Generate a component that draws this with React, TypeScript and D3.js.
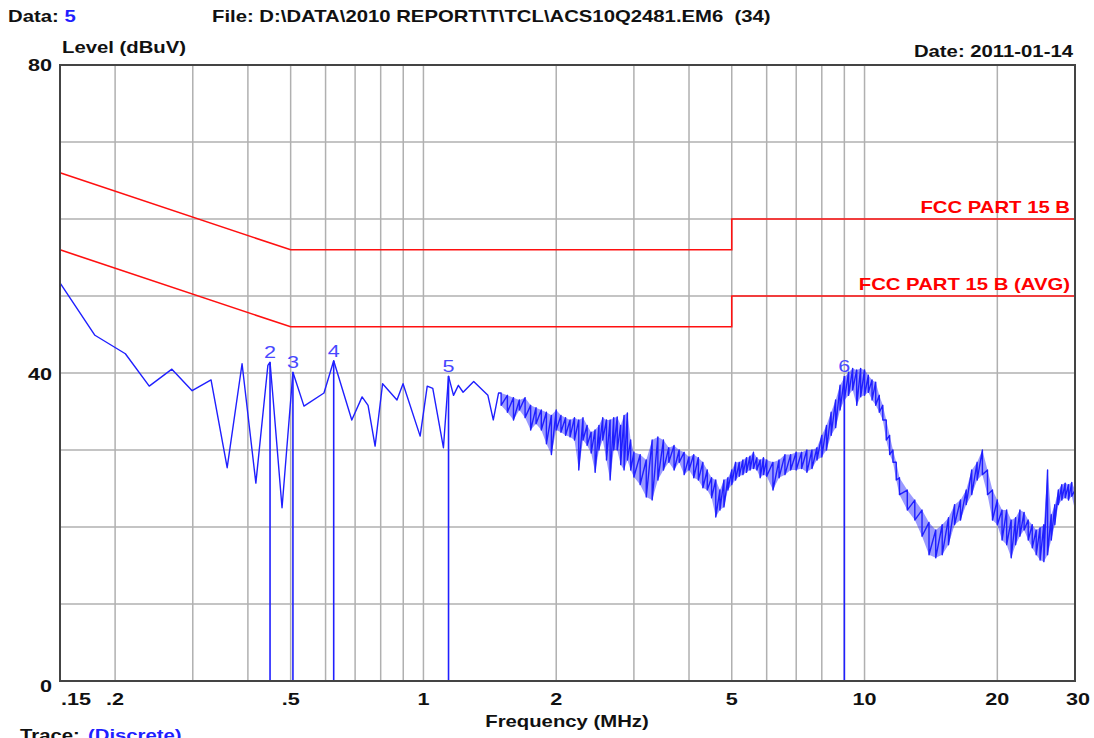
import React from 'react';
import * as d3 from 'd3';

// discrete part of the scan (MHz, dBuV)
const lowFreq = [0.15, 0.18, 0.211, 0.239, 0.269, 0.299, 0.33, 0.359, 0.388, 0.417, 0.444, 0.449, 0.455, 0.478, 0.506, 0.536, 0.595, 0.626, 0.688, 0.726, 0.749, 0.777, 0.808, 0.871, 0.899, 0.983, 1.02, 1.05, 1.11, 1.14, 1.17, 1.2, 1.23, 1.3, 1.4, 1.44, 1.48];
const lowLevel = [51.7, 44.9, 42.5, 38.3, 40.5, 37.7, 39.1, 27.7, 41.2, 25.7, 41.0, 41.4, 37.5, 22.5, 40.1, 35.7, 37.4, 41.6, 33.9, 36.9, 35.8, 30.5, 38.6, 36.5, 38.6, 31.8, 38.3, 38.0, 30.3, 39.6, 37.1, 38.4, 37.5, 38.9, 37.1, 33.9, 37.4];

// swept part, upper and lower edge of the noise band
const sweepFreq = [
  1.5, 1.55, 1.6, 1.65, 1.7, 1.75, 1.8, 1.85, 1.9, 1.95, 2.0, 2.05, 2.1, 2.15, 2.2, 2.25, 2.3, 2.35, 2.4, 2.45, 2.5, 2.55, 2.6, 2.65, 2.7, 2.75, 2.8, 2.85, 2.9, 2.95, 3.0,
  3.1, 3.2, 3.3, 3.4, 3.5, 3.6, 3.7, 3.8, 3.9, 4.0, 4.1, 4.2, 4.3, 4.4, 4.5, 4.6, 4.7, 4.8, 4.9, 5.0, 5.1, 5.2, 5.3, 5.4, 5.5, 5.6, 5.7, 5.8, 5.9, 6.0,
  6.2, 6.4, 6.6, 6.8, 7.0, 7.2, 7.4, 7.6, 7.8, 8.0, 8.2, 8.4, 8.6, 8.8, 9.0, 9.2, 9.4, 9.6, 9.8, 10, 10.2, 10.4, 10.6, 10.8, 11, 11.2, 11.4, 11.6, 11.8, 12,
  12.5, 13, 13.5, 14, 14.5, 15, 15.5, 16, 16.5, 17, 17.5, 18, 18.5, 19, 19.5, 20, 20.5, 21, 21.5, 22, 22.5, 23, 23.5, 24, 24.5, 25, 25.5, 26, 26.5, 27, 27.5, 28, 28.5, 29, 29.5, 30
];
const sweepHi = [
  37.4, 37.1, 36.8, 36.5, 36.8, 35.8, 35.5, 35.2, 34.9, 34.5, 35.2, 34.5, 34.2, 33.9, 34.2, 33.9, 34.2, 33.2, 32.3, 32.6, 33.2, 34.2, 33.9, 33.9, 34.2, 34.3, 33.2, 34.5, 34.8, 31.3, 29.7,
  29.4, 28.7, 31.3, 31.7, 31.3, 30.3, 30.6, 30.0, 29.7, 29.1, 29.4, 29.0, 28.4, 27.4, 26.4, 26.1, 24.8, 26.1, 26.4, 27.4, 28.4, 28.4, 28.7, 29.0, 29.2, 29.7, 29.0, 28.7, 29.0, 28.7,
  28.4, 28.7, 29.4, 29.4, 29.7, 29.7, 30.0, 30.0, 30.3, 31.9, 33.2, 34.9, 36.5, 38.4, 39.4, 40.1, 40.6, 40.4, 40.6, 40.4, 39.7, 39.1, 38.8, 37.1, 35.8, 33.9, 31.9, 30.0, 28.4, 26.4,
  24.8, 23.5, 22.2, 20.6, 19.6, 20.3, 21.2, 22.9, 23.5, 24.8, 27.4, 28.4, 30.0, 27.4, 24.8, 23.5, 22.2, 22.2, 20.9, 21.2, 22.2, 21.9, 20.9, 20.3, 19.6, 19.9, 20.3, 27.4, 21.6, 22.9, 24.8, 25.5, 25.7, 25.5, 25.8, 24.8
];
const sweepLo = [
  35.8, 34.9, 33.9, 35.2, 34.2, 32.6, 33.4, 32.6, 30.8, 29.4, 32.6, 32.3, 31.9, 31.7, 31.3, 27.4, 31.3, 30.6, 29.6, 27.1, 30.0, 31.3, 28.7, 26.1, 30.0, 30.0, 28.1, 27.4, 28.7, 27.4, 26.5,
  25.5, 23.9, 23.5, 26.1, 27.4, 28.4, 27.4, 28.4, 26.8, 27.4, 26.4, 26.1, 25.1, 24.8, 23.8, 21.3, 22.2, 22.6, 24.8, 25.5, 26.1, 26.6, 26.8, 27.1, 27.4, 27.6, 27.4, 26.4, 26.8, 26.6,
  24.8, 26.4, 26.8, 27.4, 27.4, 27.6, 27.1, 27.6, 28.7, 29.1, 30.0, 31.9, 32.9, 35.2, 36.5, 37.1, 37.8, 35.8, 36.9, 37.1, 37.5, 36.5, 35.8, 34.9, 33.9, 31.3, 29.4, 28.4, 26.1, 24.2,
  22.2, 20.9, 18.8, 16.4, 16.0, 16.4, 17.7, 20.3, 20.9, 22.9, 24.2, 26.1, 26.8, 24.2, 20.9, 20.3, 18.3, 17.7, 16.0, 17.7, 18.8, 19.6, 18.3, 17.3, 16.4, 15.7, 15.5, 16.4, 18.3, 20.3, 22.9, 23.5, 23.8, 23.5, 24.0, 22.2
];

// FCC Part 15 B limits
const limitFreq = [0.15, 0.5, 5, 5, 30];
const qpLimit = [66, 56, 56, 60, 60];
const avgLimit = [56, 46, 46, 50, 50];

const markerNo = ['2', '3', '4', '5', '6'];
const markerFreq = [0.449, 0.506, 0.626, 1.14, 9.0];
const markerLevel = [41.4, 40.1, 41.6, 39.6, 39.6];

const gridFreq = [0.2, 0.3, 0.4, 0.5, 0.6, 0.7, 0.8, 0.9, 1, 2, 3, 4, 5, 6, 7, 8, 9, 10, 20];
const gridLevel = [10, 20, 30, 40, 50, 60, 70];
const freqTicks = [0.15, 0.2, 0.5, 1, 2, 5, 10, 20, 30];
const freqLabels = ['.15', '.2', '.5', '1', '2', '5', '10', '20', '30'];
const levelTicks = [80, 40, 0];

// the old plot program stretches its lettering sideways
const SX = 1.27;

function T(props: { x: number; y: number; anchor?: string; fill?: string; size?: number; weight?: string; children: React.ReactNode }) {
  return (
    <text transform={`translate(${props.x},${props.y}) scale(${SX},1)`} textAnchor={props.anchor || 'start'}
      fill={props.fill || '#111'} fontSize={props.size || 16} fontWeight={props.weight || 'bold'}
      style={{ whiteSpace: 'pre' }}>
      {props.children}
    </text>
  );
}

export default function App() {
  const width = 1094;
  const height = 738;
  const m = { left: 60, right: 1075, top: 65, bottom: 681 };
  const font = '"Liberation Sans", Arial, sans-serif';
  const blue = '#1f1fff';

  const x = d3.scaleLog().domain([0.15, 30]).range([m.left, m.right]);
  const y = d3.scaleLinear().domain([0, 80]).range([m.bottom, m.top]);

  const line = d3.line<[number, number]>().x(d => x(d[0])).y(d => y(d[1]));
  const band = d3.area<number>()
    .x((_, i) => x(sweepFreq[i]))
    .y0((_, i) => y(sweepLo[i]))
    .y1((_, i) => y(sweepHi[i]));

  const trace: [number, number][] = lowFreq.map((f, i) => [f, lowLevel[i]] as [number, number]);
  sweepFreq.forEach((f, i) => {
    trace.push([f, sweepHi[i]]);
    trace.push([f, sweepLo[i]]);
  });

  const qp = limitFreq.map((f, i) => [f, qpLimit[i]] as [number, number]);
  const avg = limitFreq.map((f, i) => [f, avgLimit[i]] as [number, number]);
  const tickDy = [6, 7, 11];

  return (
    <svg width={width} height={height} style={{ position: 'absolute', left: 0, top: 0, background: '#fff' }}
      fontFamily={font}>
      <T x={8} y={22}>Data: <tspan fill={blue}>5</tspan></T>
      <T x={212} y={22}>{'File: D:\\DATA\\2010 REPORT\\T\\TCL\\ACS10Q2481.EM6  (34)'}</T>
      <T x={62} y={53}>Level (dBuV)</T>
      <T x={1073} y={57} anchor="end">Date: 2011-01-14</T>

      {gridFreq.map(f => (
        <line key={'gx' + f} x1={x(f)} x2={x(f)} y1={m.top} y2={m.bottom} stroke="#b0b0b0" strokeWidth={1.5} />
      ))}
      {gridLevel.map(v => (
        <line key={'gy' + v} x1={m.left} x2={m.right} y1={y(v)} y2={y(v)} stroke="#b0b0b0" strokeWidth={1.5} />
      ))}

      <path d={line(qp) || ''} fill="none" stroke="#ff1010" strokeWidth={1.6} />
      <path d={line(avg) || ''} fill="none" stroke="#ff1010" strokeWidth={1.6} />
      <T x={1070} y={y(60) - 6} anchor="end" fill="#ff0000">FCC PART 15 B</T>
      <T x={1070} y={y(50) - 6} anchor="end" fill="#ff0000">FCC PART 15 B (AVG)</T>

      <path d={band(sweepFreq) || ''} fill={blue} fillOpacity={0.45} stroke="none" />
      <path d={line(trace) || ''} fill="none" stroke={blue} strokeWidth={1.4} strokeLinejoin="round" />

      {markerFreq.map((f, i) => (
        <g key={'mk' + i}>
          <line x1={x(f)} x2={x(f)} y1={y(markerLevel[i])} y2={m.bottom} stroke={blue} strokeWidth={1.6} />
          <T x={x(f)} y={y(markerLevel[i]) - 4} anchor="middle" fill="#4848ff" weight="normal" size={17}>{markerNo[i]}</T>
        </g>
      ))}

      <rect x={m.left} y={m.top} width={m.right - m.left} height={m.bottom - m.top} fill="none" stroke="#444" strokeWidth={2} />

      {levelTicks.map((v, i) => (
        <T key={'yl' + v} x={52} y={y(v) + tickDy[i]} anchor="end" size={17}>{v}</T>
      ))}
      {freqTicks.map((f, i) => (
        <T key={'xl' + f} x={i === 0 ? x(f) + 1 : i === freqTicks.length - 1 ? x(f) + 3 : x(f)} y={705}
          anchor={i === 0 ? 'start' : 'middle'} size={17}>{freqLabels[i]}</T>
      ))}
      <T x={567} y={727} anchor="middle">Frequency (MHz)</T>
      <T x={20} y={741}>Trace: <tspan fill={blue} dx={2}>(Discrete)</tspan></T>
    </svg>
  );
}
